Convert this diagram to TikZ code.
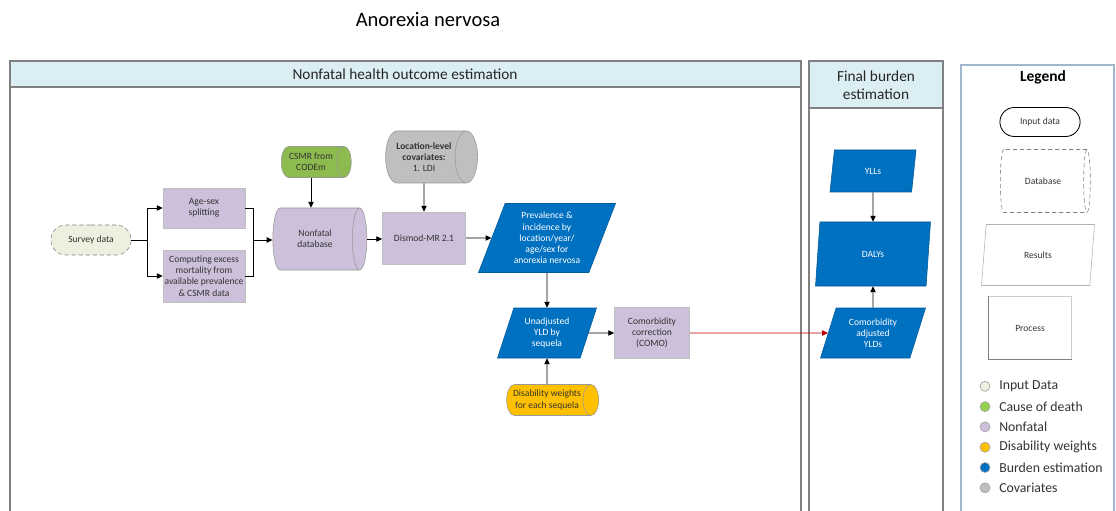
\documentclass[tikz,border=0pt]{standalone}
\usepackage{fontspec}
\setmainfont{Carlito}
\usepackage{tikz}
\usetikzlibrary{shapes.geometric, shapes.misc, arrows.meta, positioning, calc}

\definecolor{inputgreen}{HTML}{EBF1DE}
\definecolor{codgreen}{HTML}{8DBB4F}
\definecolor{legendgreen}{HTML}{92D050}
\definecolor{nflav}{HTML}{CCC0DA}
\definecolor{dwyellow}{HTML}{FFC000}
\definecolor{burdenblue}{HTML}{0070C0}
\definecolor{covgray}{HTML}{BFBFBF}
\definecolor{headblue}{HTML}{DAEEF3}
\definecolor{panelgray}{HTML}{808080}
\definecolor{legendedge}{HTML}{9FB6CD}
\definecolor{como}{HTML}{C00000}
\definecolor{textgray}{HTML}{333333}

\def\pxl{0.025cm}

\tikzset{
  box/.style={font=\fontsize{6.8}{8}\selectfont, align=center, inner sep=1pt, text=textgray},
  inputbox/.style={box, rounded rectangle, draw=gray, densely dashed, fill=inputgreen},
  % cylinder: minimum height runs along the axis
  dbbox/.style={box, cylinder, shape aspect=0.7, draw=gray!80, cylinder uses custom fill},
  procbox/.style={box, rectangle, draw=gray!50, fill=nflav},
  resbox/.style={box, trapezium, trapezium left angle=64, trapezium right angle=116,
    trapezium stretches body=true, draw=burdenblue!80!black, fill=burdenblue, text=white},
  flow/.style={-{Triangle[length=4.2pt,width=3.8pt]}, black, line width=0.6pt},
  line/.style={black, line width=0.6pt},
  dot/.style={circle, draw=gray!70, line width=0.5pt, minimum size=10*\pxl, inner sep=0pt},
  legtext/.style={font=\fontsize{9.8}{11}\selectfont, anchor=west, inner sep=0pt, text=textgray},
  header/.style={font=\fontsize{10.9}{12.8}\selectfont, align=center, text=black!85}
}

\begin{document}
\begin{tikzpicture}[x=\pxl, y=-\pxl]
  \useasboundingbox (0,0) rectangle (1116,511);

  % Title
  \node[font=\fontsize{14.6}{16}\selectfont] (title) at (428,20) {Anorexia nervosa};

  % Panels
  \fill[headblue] (10,61) rectangle (801,87);
  \draw[panelgray, line width=0.8pt] (10,87) -- (801,87);
  \draw[panelgray, line width=0.8pt] (10,511) |- (801,61) -- (801,511);
  \node[header] (nfhead) at (405,74) {Nonfatal health outcome estimation};

  \fill[headblue] (809,61) rectangle (943,108);
  \draw[panelgray, line width=0.8pt] (809,108) -- (943,108);
  \draw[panelgray, line width=0.8pt] (809,511) |- (943,61) -- (943,511);
  \node[header] (fbhead) at (876,85) {Final burden\\estimation};

  \draw[legendedge, line width=0.8pt] (961,511) |- (1114,65) -- (1114,511);

  % Nonfatal nodes
  \node[inputbox, minimum width=83*\pxl, minimum height=30*\pxl] (survey) at (91,240) {Survey data};
  \node[procbox, minimum width=82*\pxl, minimum height=40*\pxl] (agesex) at (204,208) {Age-sex\\splitting};
  \node[procbox, minimum width=82*\pxl, minimum height=52*\pxl] (excess) at (204,276) {Computing excess\\mortality from\\available prevalence\\\& CSMR data};
  \node[dbbox, fill=nflav, minimum height=94*\pxl, minimum width=62*\pxl] (nfdb) at (315,239) {Nonfatal\\database};
  \node[dbbox, fill=codgreen, minimum height=70*\pxl, minimum width=31*\pxl] (csmr) at (311,162) {CSMR from\\CODEm};
  \node[dbbox, fill=covgray, minimum height=92*\pxl, minimum width=52*\pxl] (covs) at (424,157) {\textbf{Location-level}\\\textbf{covariates:}\\1. LDI};
  \node[procbox, minimum width=83*\pxl, minimum height=52*\pxl] (dismod) at (424,238) {Dismod-MR 2.1};
  \node[resbox, minimum width=137*\pxl, minimum height=69*\pxl] (prev) at (547,238) {Prevalence \&\\incidence by\\location/year/\\age/sex for\\anorexia nervosa};
  \node[resbox, minimum width=99*\pxl, minimum height=50*\pxl] (unadj) at (547,333) {Unadjusted\\YLD by\\sequela};
  \node[dbbox, fill=dwyellow, minimum height=92*\pxl, minimum width=31*\pxl] (dw) at (547,400) {Disability weights\\for each sequela};
  \node[procbox, minimum width=75*\pxl, minimum height=51*\pxl] (como) at (652,333) {Comorbidity\\correction\\(COMO)};

  % Final burden nodes
  \node[resbox, minimum width=86*\pxl, minimum height=42*\pxl] (ylls) at (873,171) {YLLs};
  \node[resbox, minimum width=115*\pxl, minimum height=64*\pxl] (dalys) at (873,254) {DALYs};
  \node[resbox, minimum width=105*\pxl, minimum height=50*\pxl] (adjyld) at (873,333) {Comorbidity\\adjusted\\YLDs};

  % Connectors
  \coordinate (split) at (147,240);
  \coordinate (merge) at (253,240);
  \draw[line] (survey.east) -- (split);
  \draw[flow] (split) |- (agesex.west);
  \draw[flow] (split) |- (excess.west);
  \draw[line] (agesex.east) -| (merge);
  \draw[line] (excess.east) -| (merge);
  \draw[flow] (merge) -- (merge -| nfdb.west);
  \draw[flow] (csmr.south) -- (csmr.south |- nfdb.north);
  \draw[flow] (nfdb.east) -- (nfdb.east -| dismod.west);
  \draw[flow] (covs.south) -- (dismod.north);
  \draw[flow] (dismod.east) -- (prev.west);
  \draw[flow] (prev.south) -- (unadj.north);
  \draw[flow] (dw.north) -- (unadj.south);
  \draw[flow] (unadj.east) -- (como.west);
  \draw[flow, como] (como.east) -- (adjyld.west);
  \draw[flow] (ylls.south) -- (dalys.north);
  \draw[flow] (adjyld.north) -- (dalys.south);

  % Legend
  \node[font=\fontsize{11}{13}\selectfont\bfseries] (legtitle) at (1043,77) {Legend};
  \node[box, rounded rectangle, draw=black, line width=0.6pt, minimum width=83*\pxl, minimum height=29*\pxl] (lin) at (1040,122) {Input data};
  \node[dbbox, draw=gray, densely dashed, fill=white, minimum height=90*\pxl, minimum width=63*\pxl] (ldb) at (1043,181) {Database};
  \node[box, trapezium, trapezium left angle=64, trapezium right angle=116, trapezium stretches body=true, draw=gray!60, minimum width=113*\pxl, minimum height=61*\pxl] (lres) at (1038,255) {Results};
  \node[box, rectangle, draw=gray!40, minimum width=83*\pxl, minimum height=63*\pxl] (lproc) at (1030,328) {Process};
  \draw[gray, line width=0.8pt] (lproc.north west) |- (lproc.south east);

  \foreach \col/\txt [count=\i] in {inputgreen/Input Data, legendgreen/Cause of death, nflav/Nonfatal, dwyellow/Disability weights, burdenblue/Burden estimation, covgray/Covariates} {
    \node[dot, fill=\col] (dot\i) at (985,366+20.3*\i) {};
    \node[legtext] (leg\i) at (999,366+20.3*\i) {\txt};
  }
\end{tikzpicture}
\end{document}
